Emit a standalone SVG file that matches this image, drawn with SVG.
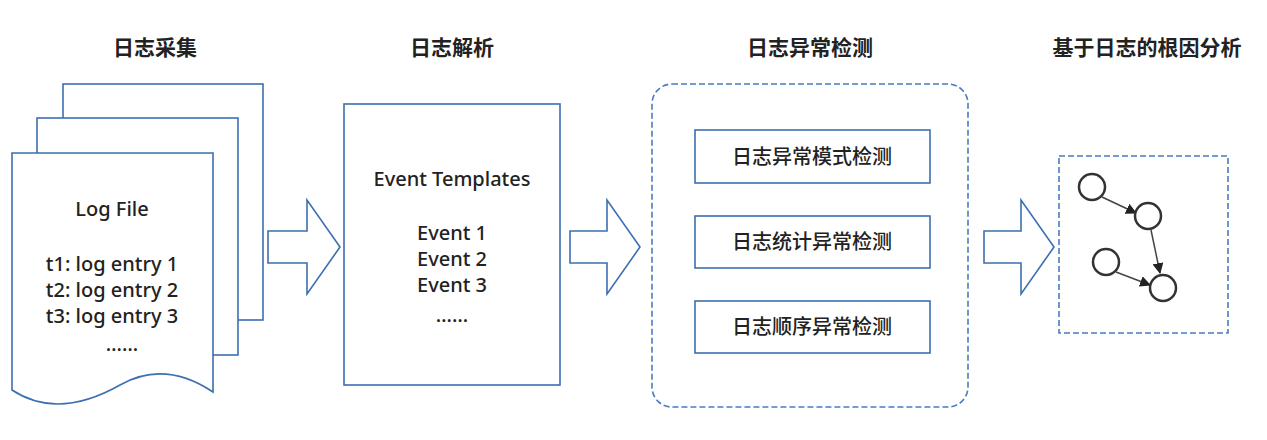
<svg xmlns="http://www.w3.org/2000/svg" width="1267" height="440" viewBox="0 0 1267 440">
<defs>
<style>
.t{font-family:"Liberation Sans","Noto Sans CJK SC",sans-serif;fill:#222;text-anchor:middle}
.h{font-size:21px;font-weight:bold}
.b{font-size:20px;font-family:"Noto Sans","Noto Sans CJK SC",sans-serif;font-weight:500}
.s{fill:#fff;stroke:#3c6fb0;stroke-width:1.6}
.d{fill:#fff;stroke:#4a7cc0;stroke-width:1.6;stroke-dasharray:6 3}
.c{fill:#fff;stroke:#333;stroke-width:2.5}
.e{stroke:#444;stroke-width:1.5;marker-end:url(#m)}
</style>
<marker id="m" viewBox="0 0 10 10" refX="9" refY="5" markerWidth="11" markerHeight="11" orient="auto" markerUnits="userSpaceOnUse"><path d="M0,0L10,5L0,10z" fill="#222"/></marker>
</defs>
<text class="t h" x="155" y="55">日志采集</text>
<text class="t h" x="452" y="55">日志解析</text>
<text class="t h" x="810" y="55">日志异常检测</text>
<text class="t h" x="1147" y="55">基于日志的根因分析</text>
<g id="logfile">
<rect class="s" x="63" y="84" width="200" height="236"/>
<rect class="s" x="37" y="118" width="201" height="237"/>
<path class="s" d="M12,153H213V392C180,370 150,368 120,385C90,402 50,415 12,390Z"/>
<text class="t b" x="112" y="216">Log File</text>
<text class="t b" x="112" y="271">t1: log entry 1</text>
<text class="t b" x="112" y="297">t2: log entry 2</text>
<text class="t b" x="112" y="323">t3: log entry 3</text>
<text class="t b" x="122" y="351">……</text>
</g>
<g id="connectors">
<path class="s" d="M268,231H307V200L340,247L307,294V263H268Z"/>
<path class="s" d="M570,231H607V200L640,247L607,294V263H570Z"/>
<path class="s" d="M984,231H1021V200L1054,247L1021,294V263H984Z"/>
</g>
<g id="parse">
<rect class="s" x="344" y="104" width="216" height="281"/>
<text class="t b" x="452" y="186">Event Templates</text>
<text class="t b" x="452" y="240">Event 1</text>
<text class="t b" x="452" y="266">Event 2</text>
<text class="t b" x="452" y="292">Event 3</text>
<text class="t b" x="452" y="322">……</text>
</g>
<g id="detect">
<rect class="d" x="652" y="84" width="316" height="323" rx="20"/>
<rect class="s" x="695" y="130" width="235" height="53"/>
<rect class="s" x="695" y="216" width="235" height="52"/>
<rect class="s" x="695" y="301" width="235" height="52"/>
<text class="t b" x="812" y="164">日志异常模式检测</text>
<text class="t b" x="812" y="249">日志统计异常检测</text>
<text class="t b" x="812" y="334">日志顺序异常检测</text>
</g>
<g id="rca">
<rect class="d" x="1059" y="156" width="169" height="177"/>
<line class="e" x1="1102" y1="197" x2="1136" y2="213"/>
<line class="e" x1="1151" y1="230" x2="1160" y2="273"/>
<line class="e" x1="1116" y1="272" x2="1150" y2="285"/>
<circle class="c" cx="1092" cy="187" r="13"/>
<circle class="c" cx="1148" cy="216" r="13"/>
<circle class="c" cx="1106" cy="262" r="13"/>
<circle class="c" cx="1163" cy="288" r="13"/>
</g>
</svg>
